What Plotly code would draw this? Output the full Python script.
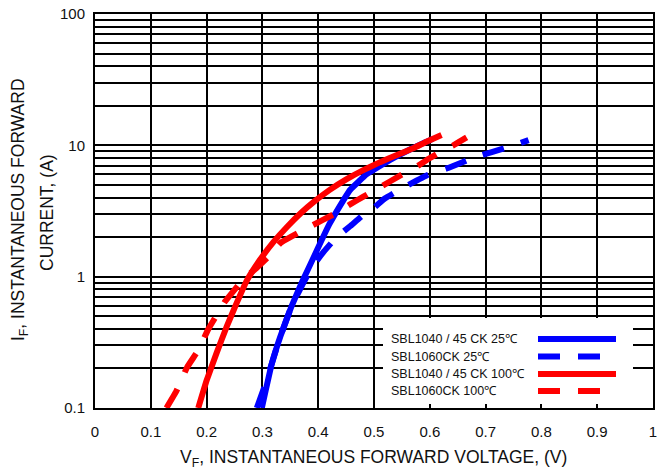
import plotly.graph_objects as go

# ---- data (V_F in volts, I_F in amps) ----
blue_solid_v = [0.299, 0.317, 0.332, 0.352, 0.372, 0.390, 0.405, 0.420, 0.435, 0.457, 0.487, 0.529, 0.570, 0.605]
blue_solid_i = [0.100, 0.219, 0.349, 0.592, 0.93, 1.35, 1.85, 2.51, 3.24, 4.57, 6.03, 7.76, 9.55, 11.2]

blue_dash_v = [0.290, 0.305, 0.317, 0.332, 0.352, 0.373, 0.390, 0.410, 0.432, 0.457, 0.478, 0.500, 0.520, 0.547, 0.597, 0.633, 0.684, 0.714, 0.753, 0.777]
blue_dash_i = [0.100, 0.151, 0.219, 0.349, 0.592, 0.891, 1.20, 1.55, 1.98, 2.42, 2.88, 3.35, 3.95, 4.62, 5.96, 6.73, 8.20, 8.95, 10.07, 10.96]

red_solid_v = [0.185, 0.200, 0.218, 0.236, 0.254, 0.272, 0.296, 0.320, 0.344, 0.370, 0.391, 0.420, 0.451, 0.480, 0.511, 0.541, 0.570, 0.595, 0.621]
red_solid_i = [0.100, 0.162, 0.263, 0.417, 0.631, 0.933, 1.35, 1.84, 2.39, 3.08, 3.68, 4.56, 5.53, 6.45, 7.45, 8.43, 9.5, 10.7, 12.0]

red_dash_v = [0.128, 0.146, 0.165, 0.185, 0.203, 0.220, 0.233, 0.250, 0.266, 0.290, 0.310, 0.332, 0.355, 0.385, 0.430, 0.457, 0.481, 0.508, 0.549, 0.579, 0.600, 0.627, 0.642, 0.666]
red_dash_i = [0.100, 0.135, 0.204, 0.275, 0.398, 0.525, 0.646, 0.794, 0.955, 1.17, 1.41, 1.80, 2.05, 2.40, 3.02, 3.55, 4.07, 4.73, 5.95, 7.0, 8.0, 9.3, 10.0, 11.5]

series_names = ["SBL1040 / 45 CK 25℃", "SBL1060CK 25℃", "SBL1040 / 45 CK 100℃", "SBL1060CK 100℃"]

x_tickvals = [0, 0.1, 0.2, 0.3, 0.4, 0.5, 0.6, 0.7, 0.8, 0.9, 1.0]
x_ticktext = ["0", "0.1", "0.2", "0.3", "0.4", "0.5", "0.6", "0.7", "0.8", "0.9", "1"]
y_decades = [0.1, 1, 10, 100]
y_decade_labels = ["0.1", "1", "10", "100"]

# ---- styling ----
FONT = "Liberation Sans, Arial, sans-serif"
TXT = "#111111"
BLUE = "#0000FF"
RED = "#FF0000"
LW = 6
DASH = "22px,18px"

# minor grid lines at 2..9 x each decade
y_minor = []
for d in y_decades[:-1]:
    for k in range(2, 10):
        y_minor.append(round(d * k, 6))

fig = go.Figure()
styles = [
    (blue_solid_v, blue_solid_i, BLUE, "solid"),
    (blue_dash_v, blue_dash_i, BLUE, DASH),
    (red_solid_v, red_solid_i, RED, "solid"),
    (red_dash_v, red_dash_i, RED, DASH),
]
for (xv, yv, col, dash), name in zip(styles, series_names):
    fig.add_trace(go.Scatter(
        x=xv, y=yv, mode="lines", name=name,
        line=dict(color=col, width=LW, dash=dash, shape="spline", smoothing=0.3),
        showlegend=False,
    ))

# pixel -> paper helpers for the plot area
L, R, T, B = 95, 653, 14, 408
def px(xp):
    return (xp - L) / (R - L)
def py(yp):
    return (B - yp) / (B - T)

shapes = []
annotations = []
# custom legend: white box without border, text left, line sample right
shapes.append(dict(type="rect", xref="paper", yref="paper", x0=px(383), x1=px(633), y0=py(404), y1=py(318),
                   fillcolor="white", line=dict(width=0), layer="above"))
rows_y = [339, 356.5, 374, 391]
legend_styles = [(BLUE, "solid", 616), (BLUE, DASH, 604), (RED, "solid", 616), (RED, DASH, 604)]
for name, ry, (col, dash, xend) in zip(series_names, rows_y, legend_styles):
    annotations.append(dict(text=name, xref="paper", yref="paper", x=px(389), y=py(ry),
                            xanchor="left", yanchor="middle", showarrow=False,
                            font=dict(family=FONT, size=12.5, color=TXT)))
    shapes.append(dict(type="line", xref="paper", yref="paper", x0=px(538), x1=px(xend), y0=py(ry), y1=py(ry),
                       line=dict(color=col, width=LW, dash=dash), layer="above"))

# axis titles
annotations.append(dict(text="V<sub>F</sub>, INSTANTANEOUS FORWARD VOLTAGE, (V)", xref="paper", yref="paper",
                        x=px(373), y=py(458), xanchor="center", yanchor="middle", showarrow=False,
                        font=dict(family=FONT, size=17.5, color=TXT)))
annotations.append(dict(text="I<sub>F</sub>, INSTANTANEOUS FORWARD", xref="paper", yref="paper",
                        x=px(19), y=py(210), xanchor="center", yanchor="middle", showarrow=False, textangle=-90,
                        font=dict(family=FONT, size=17.5, color=TXT)))
annotations.append(dict(text="CURRENT, (A)", xref="paper", yref="paper",
                        x=px(47), y=py(212), xanchor="center", yanchor="middle", showarrow=False, textangle=-90,
                        font=dict(family=FONT, size=17.5, color=TXT)))

fig.update_layout(
    width=657, height=473,
    margin=dict(l=L, r=657 - R, t=T, b=473 - B, autoexpand=False),
    paper_bgcolor="white", plot_bgcolor="white",
    font=dict(family=FONT, size=15, color=TXT),
    shapes=shapes, annotations=annotations,
    showlegend=False,
)
fig.update_xaxes(
    range=[0, 1], tickvals=x_tickvals, ticktext=x_ticktext, automargin=False,
    showgrid=True, gridcolor="black", gridwidth=2,
    showline=True, linecolor="black", linewidth=2, mirror=True,
    ticks="", ticklabelstandoff=9, ticklabeloverflow="allow", zeroline=False,
    tickfont=dict(family=FONT, size=15, color=TXT),
)
fig.update_yaxes(
    type="log", range=[-1, 2], tickvals=y_decades, ticktext=y_decade_labels, automargin=False,
    showgrid=True, gridcolor="black", gridwidth=2,
    minor=dict(tickvals=y_minor, showgrid=True, gridcolor="black", gridwidth=2, ticks=""),
    showline=True, linecolor="black", linewidth=2, mirror=True,
    ticks="", ticklabelstandoff=5, ticklabeloverflow="allow", zeroline=False,
    tickfont=dict(family=FONT, size=15, color=TXT),
)

fig.write_html("out.html", config={"displayModeBar": False},
               post_script="document.body.style.margin='0';document.body.style.overflow='hidden';")
